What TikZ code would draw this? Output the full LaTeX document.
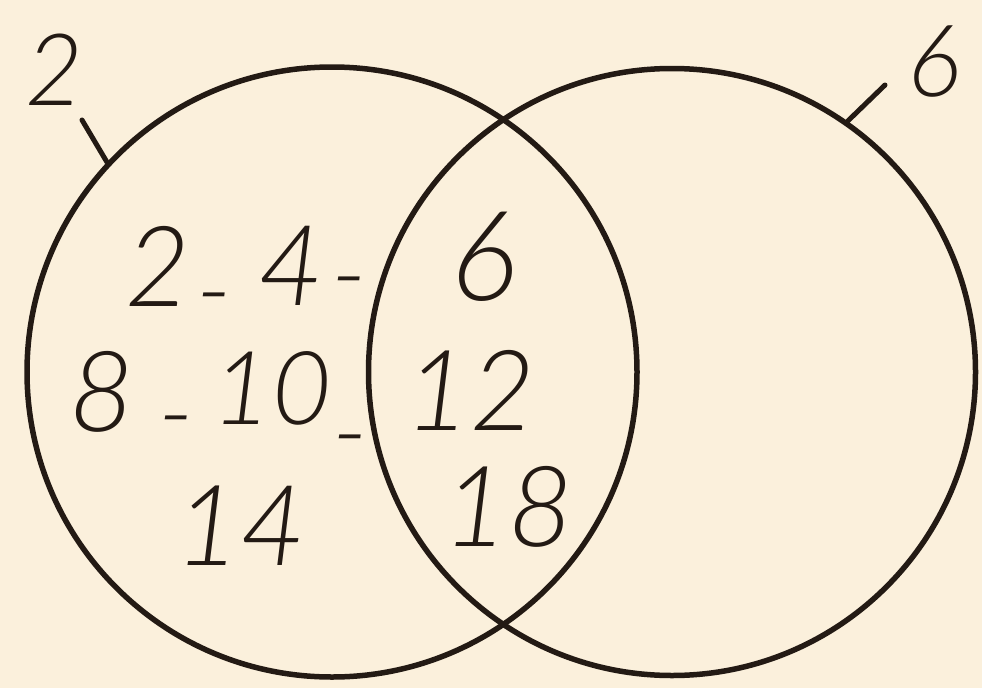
\documentclass[tikz,border=0pt]{standalone}
\usepackage{fontspec}
\newfontfamily\hand{Lato Light Italic}
\definecolor{paper}{RGB}{251,240,220}
\definecolor{ink}{RGB}{35,26,20}
\begin{document}
\begin{tikzpicture}[x=1pt,y=-1pt,
  setcircle/.style={circle, draw=ink, line width=5.5pt, inner sep=0pt, minimum size=#1},
  num/.style={text=ink, font=\hand\fontsize{112}{112}\selectfont, inner sep=0pt},
  lab/.style={text=ink, font=\hand\fontsize{100}{100}\selectfont, inner sep=0pt},
  hyph/.style={text=ink, font=\hand\fontsize{100}{100}\selectfont, inner sep=0pt},
  tickline/.style={draw=ink, line width=5pt, line cap=round}]
\fill[paper] (0,0) rectangle (982,688);
\useasboundingbox (0,0) rectangle (982,688);
\node[setcircle=610pt] (L) at (332,372) {};
\node[setcircle=607pt] (R) at (672,372) {};
% labels
\node[lab] (l2) at (54,70) {2};
\node[lab] (l6) at (934,62) {6};
\coordinate (t2) at (82,120);
\coordinate (t6) at (885,85);
\draw[tickline] (t2) -- (L.137);
\draw[tickline] (t6) -- (R.55);
% left only
\node[num] (a2) at (158,266) {2};
\node[hyph] (d1) at (214,309) {-};
\node[num] (a4) at (291,266) {4};
\node[hyph] (d2) at (349,293) {-};
\node[num] (a8) at (102,392) {8};
\node[hyph] (d3) at (176,432) {-};
\node[num, font=\hand\fontsize{102}{102}\selectfont] (a10) at (272,388) {10};
\node[hyph] (d4) at (350,451) {-};
\node[num] (a14) at (240,526) {14};
% intersection
\node[num, font=\hand\fontsize{125}{125}\selectfont] (b6) at (484,257) {6};
\node[num] (b12) at (470,390) {12};
\node[num] (b18) at (508,507) {18};
\end{tikzpicture}
\end{document}
